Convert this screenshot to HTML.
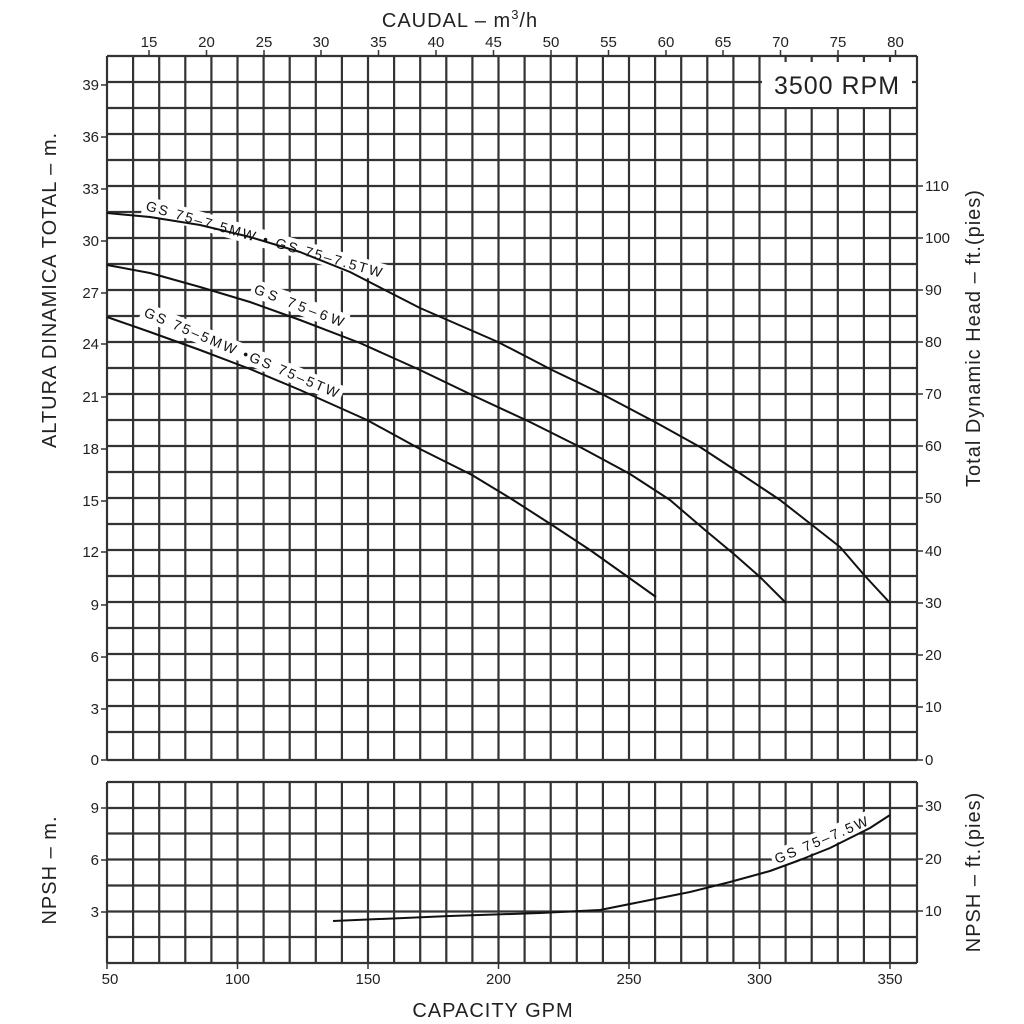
<!DOCTYPE html>
<html><head><meta charset="utf-8"><style>html,body{margin:0;padding:0;background:#fff}svg{display:block}</style></head>
<body>
<svg width="1024" height="1024" viewBox="0 0 1024 1024" xmlns="http://www.w3.org/2000/svg" font-family="Liberation Sans, DejaVu Sans, sans-serif" fill="#222">
<g stroke="#333" stroke-width="2.2" fill="none">
<path d="M107 56V760M133.1 56V760M159.2 56V760M185.3 56V760M211.4 56V760M237.5 56V760M263.6 56V760M289.7 56V760M315.8 56V760M341.9 56V760M368 56V760M394.1 56V760M420.2 56V760M446.3 56V760M472.4 56V760M498.5 56V760M524.6 56V760M550.7 56V760M576.8 56V760M602.9 56V760M629 56V760M655.1 56V760M681.2 56V760M707.3 56V760M733.4 56V760M759.5 56V760M785.6 56V760M811.7 56V760M837.8 56V760M863.9 56V760M890 56V760M917 56V760"/>
<path d="M107 782V963M133.1 782V963M159.2 782V963M185.3 782V963M211.4 782V963M237.5 782V963M263.6 782V963M289.7 782V963M315.8 782V963M341.9 782V963M368 782V963M394.1 782V963M420.2 782V963M446.3 782V963M472.4 782V963M498.5 782V963M524.6 782V963M550.7 782V963M576.8 782V963M602.9 782V963M629 782V963M655.1 782V963M681.2 782V963M707.3 782V963M733.4 782V963M759.5 782V963M785.6 782V963M811.7 782V963M837.8 782V963M863.9 782V963M890 782V963M917 782V963"/>
<path d="M107 56H917M107 82H917M107 108H917M107 134H917M107 160H917M107 186H917M107 212H917M107 238H917M107 264H917M107 290H917M107 316H917M107 342H917M107 368H917M107 394H917M107 420H917M107 446H917M107 472H917M107 498H917M107 524H917M107 550H917M107 576H917M107 602H917M107 628H917M107 654H917M107 680H917M107 706H917M107 732H917M107 760H917"/>
<path d="M107 782H917M107 808H917M107 833.5H917M107 859.5H917M107 885.5H917M107 911.5H917M107 937H917M107 963H917"/>
</g>
<g stroke="#333" stroke-width="1.5">
<path d="M101 85H107M101 137H107M101 189H107M101 241H107M101 293H107M101 344H107M101 397H107M101 449H107M101 501H107M101 552H107M101 605H107M101 657H107M101 709H107M101 760H107M101 808H107M101 860H107M101 912H107"/>
<path d="M917 186H923M917 238H923M917 290H923M917 342H923M917 394H923M917 446H923M917 498H923M917 551H923M917 603H923M917 655H923M917 707H923M917 760H923M917 806H923M917 859H923M917 911H923"/>
<path d="M149 50V56M206.5 50V56M264 50V56M321 50V56M378.5 50V56M436 50V56M493.5 50V56M551 50V56M608.5 50V56M666 50V56M723 50V56M780.5 50V56M838 50V56M895.5 50V56"/>
<path d="M107 963V969M237.5 963V969M368 963V969M498.5 963V969M629 963V969M759.5 963V969M890 963V969"/>
</g>
<g font-size="15" text-anchor="end">
<text x="99" y="90">39</text><text x="99" y="142">36</text><text x="99" y="194">33</text><text x="99" y="246">30</text><text x="99" y="298">27</text><text x="99" y="349">24</text><text x="99" y="402">21</text><text x="99" y="454">18</text><text x="99" y="506">15</text><text x="99" y="557">12</text><text x="99" y="610">9</text><text x="99" y="662">6</text><text x="99" y="714">3</text><text x="99" y="765">0</text>
<text x="99" y="813">9</text><text x="99" y="865">6</text><text x="99" y="917">3</text>
</g>
<g font-size="15" text-anchor="start">
<text x="925" y="191">110</text><text x="925" y="243">100</text><text x="925" y="295">90</text><text x="925" y="347">80</text><text x="925" y="399">70</text><text x="925" y="451">60</text><text x="925" y="503">50</text><text x="925" y="556">40</text><text x="925" y="608">30</text><text x="925" y="660">20</text><text x="925" y="712">10</text><text x="925" y="765">0</text>
<text x="925" y="811">30</text><text x="925" y="864">20</text><text x="925" y="916">10</text>
</g>
<g font-size="15" text-anchor="middle">
<text x="149" y="47">15</text><text x="206.5" y="47">20</text><text x="264" y="47">25</text><text x="321" y="47">30</text><text x="378.5" y="47">35</text><text x="436" y="47">40</text><text x="493.5" y="47">45</text><text x="551" y="47">50</text><text x="608.5" y="47">55</text><text x="666" y="47">60</text><text x="723" y="47">65</text><text x="780.5" y="47">70</text><text x="838" y="47">75</text><text x="895.5" y="47">80</text>
<text x="110" y="984">50</text><text x="237.5" y="984">100</text><text x="368" y="984">150</text><text x="498.5" y="984">200</text><text x="629" y="984">250</text><text x="759.5" y="984">300</text><text x="890" y="984">350</text>
</g>
<g font-size="20" text-anchor="middle" letter-spacing="1">
<text x="460" y="27">CAUDAL  – m<tspan font-size="13" dy="-8">3</tspan><tspan dy="8">/h</tspan></text>
<text x="493" y="1017">CAPACITY GPM</text>
<text transform="translate(56,290) rotate(-90)">ALTURA DINAMICA TOTAL – m.</text>
<text transform="translate(56,870) rotate(-90)">NPSH – m.</text>
<text transform="translate(980,338) rotate(-90)">Total Dynamic Head – ft.(pies)</text>
<text transform="translate(980,872) rotate(-90)">NPSH – ft.(pies)</text>
</g>
<rect x="762" y="62" width="150" height="45" fill="#fff"/>
<text x="837" y="94" font-size="25" text-anchor="middle" letter-spacing="1">3500 RPM</text>
<g font-size="14" fill="#111">
<g transform="translate(145,210) rotate(16)"><rect x="-3" y="-14" width="252" height="18" fill="#fff"/><text x="0" y="0" textLength="245" lengthAdjust="spacing">GS  75–7.5MW  •  GS  75–7.5TW</text></g>
<g transform="translate(253,293) rotate(21)"><rect x="-3" y="-14" width="102" height="18" fill="#fff"/><text x="0" y="0" textLength="95" lengthAdjust="spacing">GS  75–6W</text></g>
<g transform="translate(143,316) rotate(23)"><rect x="-3" y="-14" width="217" height="18" fill="#fff"/><text x="0" y="0" textLength="210" lengthAdjust="spacing">GS  75–5MW  •GS  75–5TW</text></g>
<g transform="translate(777,864) rotate(-23)"><rect x="-3" y="-14" width="107" height="18" fill="#fff"/><text x="0" y="0" textLength="100" lengthAdjust="spacing">GS  75–7.5W</text></g>
</g>
<g fill="none" stroke="#111" stroke-width="2" stroke-linejoin="round">
<polyline points="107,213 150,217 200,225 250,237 300,252 350,272 420,308 498,342 552,370 600,393 655,422 700,447 735,470 780,500 812,525 840,547 865,576 890,603"/>
<polyline points="107,265 150,273 200,287 250,302 300,320 360,343 420,370 472,395 530,422 580,447 630,474 670,500 705,530 735,555 760,577 786,603"/>
<polyline points="107,317 150,332 200,350 250,369 300,390 367,420 420,449 472,475 510,498 552,525 590,550 628,577 656,597"/>
<polyline points="333,921 450,916 540,913 600,910 650,900 690,892 730,882 770,871 800,860 830,848 850,838 870,828 890,815"/>
</g>
</svg>
</body></html>
